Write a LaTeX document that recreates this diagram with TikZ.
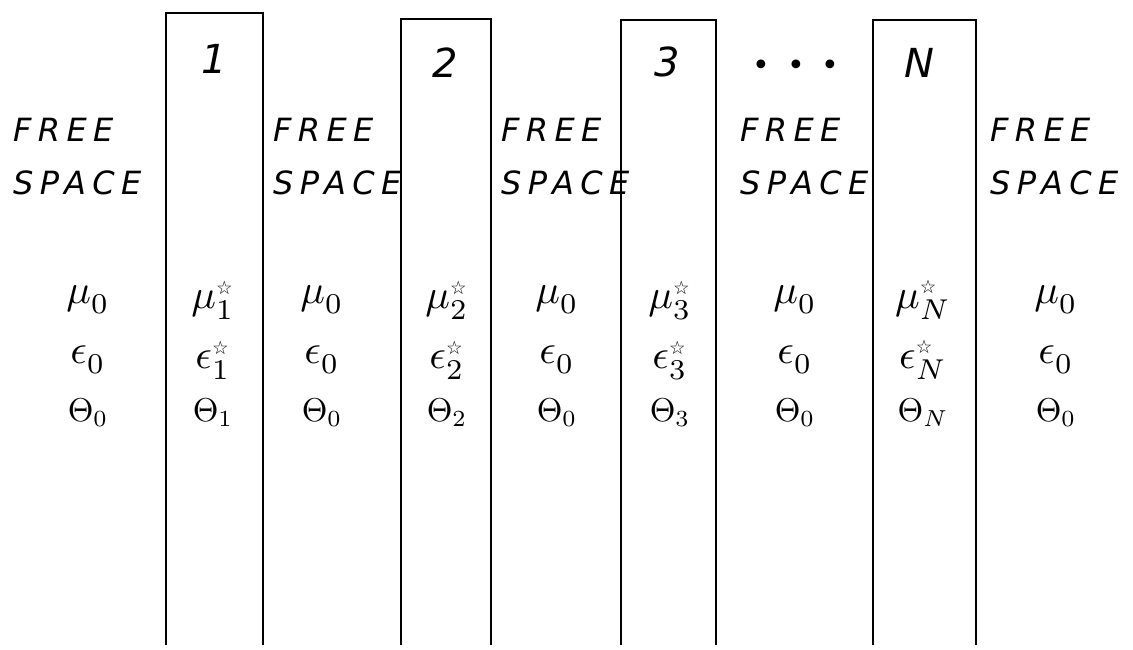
\RequirePackage{fix-cm}
\documentclass[tikz,border=0pt]{standalone}
\usepackage{amsmath}
\usepackage{graphicx}
\usepackage{fontspec}
\newfontfamily\hand[LetterSpace=20]{DejaVu Sans}
\newfontfamily\starfont{DejaVu Sans}
\newcommand{\st}{\text{\starfont\fontsize{4.5}{4.5}\selectfont ☆}}
\newcommand{\bigsym}[2][4.1]{\scalebox{#1}{$#2$}}

\begin{document}
\begin{tikzpicture}[x=1pt, y=-1pt,
  slab/.style={line width=1.6pt},
  word/.style={font=\hand\itshape\fontsize{32}{53}\selectfont, align=left, anchor=north west, inner sep=0pt},
  num/.style={font=\hand\itshape\fontsize{40}{44}\selectfont, inner sep=0pt},
  prop/.style={inner sep=0pt}]
  \useasboundingbox (0,0) rectangle (1133,649);

  % slabs, open at the bottom
  \foreach \l/\r/\t in {166/263/13, 401/491/19, 621/716/20, 873/976/20}
    \draw[slab] (\l,645) |- (\r,\t) -- (\r,645);

  % slab numbers
  \node[num] (n1) at (214,59) {1};
  \node[num] (n2) at (445,63) {2};
  \node[num] (n3) at (667,62) {3};
  \node[num] (nN) at (919,63) {N};
  \node[font=\fontsize{30}{30}\selectfont, inner sep=0pt] (dots) at (796,68)
    {\starfont•\hspace{17pt}•\hspace{17pt}•};

  % free space labels
  \node[word] (fs0) at (13,118) {FREE\\SPACE};
  \node[word] (fs1) at (273,118) {FREE\\SPACE};
  \node[word] (fs2) at (501,118) {FREE\\SPACE};
  \node[word] (fs3) at (740,118) {FREE\\SPACE};
  \node[word] (fs4) at (990,118) {FREE\\SPACE};

  % material constants
  \foreach \x/\s/\k [count=\i] in {88/0/{}, 213/1/\st, 322/0/{}, 447/2/\st, 557/0/{},
                                  670/3/\st, 795/0/{}, 923/N/\st, 1056/0/{}} {
    \node[prop] (mu\i)  at (\x,300) {\bigsym{\mu_{\s}^{\k}}};
    \node[prop] (eps\i) at (\x,360) {\bigsym{\epsilon_{\s}^{\k}}};
    \node[prop] (th\i)  at (\x,413) {\bigsym[3.3]{\Theta_{\s}}};
  }
\end{tikzpicture}
\end{document}
